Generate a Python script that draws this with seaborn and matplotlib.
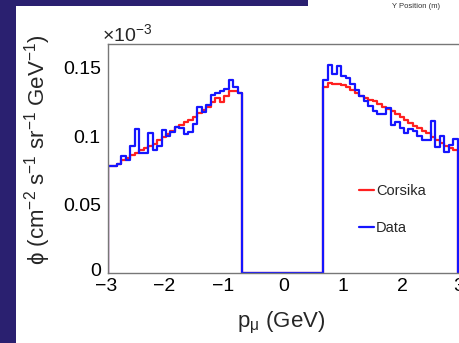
import numpy as np
import pandas as pd
import matplotlib
matplotlib.use("Agg")
import matplotlib.pyplot as plt
import seaborn as sns
from matplotlib.patches import Rectangle
from matplotlib.lines import Line2D
from matplotlib.ticker import FixedLocator, MultipleLocator
from matplotlib.transforms import ScaledTranslation

# ---------------- data (flux in units of 1e-3) ----------------
neg_range = (-2.936, -0.686)   # p_mu bin range for negative muons
pos_range = (0.669, 2.919)     # p_mu bin range for positive muons
n_bins = 30

data_neg = [0.078, 0.078, 0.080, 0.0855, 0.0826, 0.0927, 0.105, 0.088, 0.0875, 0.1025,
            0.090, 0.093, 0.1044, 0.100, 0.1032, 0.1068, 0.1056, 0.1015, 0.1032, 0.109,
            0.1214, 0.1177, 0.1226, 0.130, 0.1315, 0.1325, 0.134, 0.1408, 0.136, 0.1315]
data_pos = [0.1408, 0.152, 0.1455, 0.151, 0.144, 0.142, 0.138, 0.1335, 0.1295, 0.1255,
            0.1218, 0.118, 0.116, 0.116, 0.1205, 0.108, 0.110, 0.106, 0.102, 0.105,
            0.1035, 0.100, 0.097, 0.097, 0.111, 0.092, 0.100, 0.0886, 0.0935, 0.0976]
corsika_neg = [0.078, 0.0785, 0.080, 0.0825, 0.084, 0.0865, 0.088, 0.0895, 0.091, 0.0925,
               0.094, 0.097, 0.099, 0.1015, 0.104, 0.1065, 0.108, 0.110, 0.112, 0.114,
               0.117, 0.119, 0.1215, 0.1245, 0.1275, 0.125, 0.1295, 0.1325, 0.1325, 0.1315]
corsika_pos = [0.136, 0.1384, 0.138, 0.1377, 0.137, 0.136, 0.1335, 0.131, 0.1295, 0.128,
               0.1265, 0.1255, 0.123, 0.1214, 0.120, 0.1185, 0.116, 0.114, 0.1117, 0.1097,
               0.1073, 0.1056, 0.104, 0.102, 0.0995, 0.097, 0.0947, 0.0927, 0.091, 0.0898]

x_tick_vals = [-2, -1, 0, 1, 2]
x_tick_labels = ["\u22122", "\u22121", "0", "1", "2"]
y_tick_vals = [0, 0.05, 0.1, 0.15]
y_tick_labels = ["0", "0.05", "0.1", "0.15"]
series_labels = ["Corsika", "Data"]

# ---------------- style ----------------
sns.set_style("white")
plt.rcParams["font.family"] = ["Liberation Sans", "DejaVu Sans"]
plt.rcParams["mathtext.fontset"] = "custom"
plt.rcParams["mathtext.rm"] = "Liberation Sans"
plt.rcParams["mathtext.it"] = "Liberation Sans"
plt.rcParams["mathtext.default"] = "regular"

W, H = 459, 343
fig = plt.figure(figsize=(W / 100, H / 100), dpi=100)
fig.patch.set_facecolor("white")
navy = "#2a2070"
fig.add_artist(Rectangle((0, 0), 16 / W, 1, transform=fig.transFigure,
                         facecolor=navy, edgecolor="none", zorder=-5))
fig.add_artist(Rectangle((0, 1 - 6 / H), 308 / W, 6 / H, transform=fig.transFigure,
                         facecolor=navy, edgecolor="none", zorder=-5))
fig.text(416 / W, 1 - 6 / H, "Y Position (m)", fontsize=5.5, color="#333333",
         ha="center", va="center")

ax_left, ax_bottom = 107.7 / W, (H - 273.4) / H
ax_top = (H - 44) / H
xmin, xmax = -2.936, 2.94
px_per_unit = 59.8
ax_w = (xmax - xmin) * px_per_unit / W
ax = fig.add_axes([ax_left, ax_bottom, ax_w, ax_top - ax_bottom])

# bin edges: extra empty bins so the outline drops to zero at the ends
edges_neg = np.linspace(neg_range[0], neg_range[1], n_bins + 1)
edges_pos = np.linspace(pos_range[0], pos_range[1], n_bins + 1)
edges = np.concatenate([[-3.2], edges_neg, edges_pos, [3.2]])
centers = 0.5 * (edges[:-1] + edges[1:])


def make_df(neg, pos):
    w = np.concatenate([[0.0], neg, [0.0], pos, [0.0]])
    return pd.DataFrame({"p": centers, "flux": w})


sns.histplot(data=make_df(corsika_neg, corsika_pos), x="p", weights="flux",
             bins=list(edges), element="step", fill=False, color="#ff2020",
             linewidth=1.6, ax=ax)
sns.histplot(data=make_df(data_neg, data_pos), x="p", weights="flux",
             bins=list(edges), element="step", fill=False, color="#1515ff",
             linewidth=1.6, ax=ax)

ax.set_xlim(xmin, xmax)
ax.set_ylim(0, 0.167)

ax.xaxis.set_major_locator(FixedLocator([xmin] + x_tick_vals + [xmax]))
ax.set_xticklabels(["\u22123"] + x_tick_labels + ["3"])
ax.xaxis.set_minor_locator(MultipleLocator(0.2))
ax.yaxis.set_major_locator(FixedLocator(y_tick_vals))
ax.set_yticklabels(y_tick_labels)
ax.yaxis.set_minor_locator(MultipleLocator(0.01))

ax.tick_params(axis="both", which="both", direction="in", color="#666666",
               labelsize=14, labelcolor="black")
ax.tick_params(axis="both", which="major", length=8, width=0.9)
ax.tick_params(axis="both", which="minor", length=4, width=0.8)
ax.tick_params(axis="y", which="major", pad=5)
ax.tick_params(axis="x", which="major", pad=3)

# lift the y "0" label a little, as in the reference
t0 = ax.yaxis.get_major_ticks()[0]
t0.label1.set_transform(t0.label1.get_transform() +
                        ScaledTranslation(0, 4 / 100, fig.dpi_scale_trans))
# nudge the "-3" label slightly left
tx = ax.xaxis.get_major_ticks()[0]
tx.label1.set_transform(tx.label1.get_transform() +
                        ScaledTranslation(-1.5 / 100, 0, fig.dpi_scale_trans))

for side in ["left", "bottom", "top"]:
    ax.spines[side].set_color("#777777")
    ax.spines[side].set_linewidth(1.0)
ax.spines["right"].set_visible(False)

ax.set_xlabel("p$_{\u03bc}$ (GeV)", fontsize=16)
ax.xaxis.set_label_coords(0.493, -0.16)
ax.set_ylabel("\u03d5 (cm$^{-2}$ s$^{-1}$ sr$^{-1}$ GeV$^{-1}$)", fontsize=16)
ax.yaxis.set_label_coords(-0.155, 0.54)

fig.text(102 / W, 1 - 41 / H, "\u00d710$^{-3}$", fontsize=14, ha="left", va="baseline")

handles = [Line2D([], [], color="#ff2020", linewidth=1.6),
           Line2D([], [], color="#1515ff", linewidth=1.6)]
leg = ax.legend(handles, series_labels, loc="center left",
                bbox_to_anchor=(346 / W, 1 - 209.5 / H), bbox_transform=fig.transFigure,
                frameon=False, fontsize=10.5, handlelength=1.0, handletextpad=0.15,
                labelspacing=1.6)

fig.savefig("out.png", dpi=100)
